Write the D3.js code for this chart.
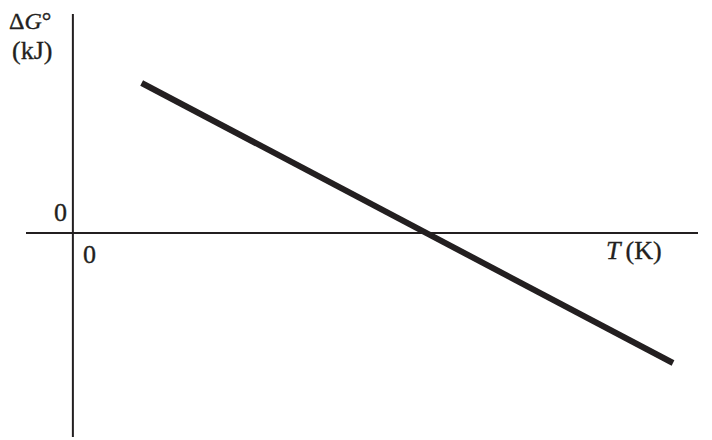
<!DOCTYPE html>
<style>
    body { margin: 0; background: #fff; }
    text { font-family: "Liberation Serif", "DejaVu Serif", serif; fill: #231f20; stroke: #231f20; stroke-width: 0.35px; }
</style>
<body>

<script src="https://d3js.org/d3.v7.min.js"></script>
<script>
    // axis extents (data units)
    var tDomain = [-75, 1000];
    var gDomain = [-204, 219];

    // the straight line: T (K) and ΔG° (kJ) at its two ends
    var lineT = [110, 960];
    var lineG = [150, -130];

    var width = 712,
        height = 440;

    var svg = d3.select("body").append("svg")
        .attr("width", width)
        .attr("height", height);

    var x = d3.scaleLinear().domain(tDomain).range([26, 698]);
    var y = d3.scaleLinear().domain(gDomain).range([437, 14]);

    var ink = "#231f20";

    // horizontal axis (ΔG° = 0)
    svg.append("line")
        .attr("x1", x(tDomain[0])).attr("x2", x(tDomain[1]))
        .attr("y1", y(0)).attr("y2", y(0))
        .attr("stroke", ink).attr("stroke-width", 2);

    // vertical axis (T = 0)
    svg.append("line")
        .attr("x1", x(0)).attr("x2", x(0))
        .attr("y1", y(gDomain[0])).attr("y2", y(gDomain[1]))
        .attr("stroke", ink).attr("stroke-width", 2);

    var pts = lineT.map(function(t, i) { return [t, lineG[i]]; });

    svg.append("path")
        .datum(pts)
        .attr("fill", "none")
        .attr("stroke", ink)
        .attr("stroke-width", 6)
        .attr("d", d3.line()
            .x(function(d) { return x(d[0]); })
            .y(function(d) { return y(d[1]); }));

    // labels
    var fs = 26;

    var yl = svg.append("text")
        .attr("x", 9).attr("y", 29)
        .attr("font-size", 24);
    yl.append("tspan").text("Δ");
    yl.append("tspan").attr("font-style", "italic").text("G");
    yl.append("tspan").text("°");

    svg.append("text")
        .attr("x", 12).attr("y", 59)
        .attr("font-size", fs)
        .text("(kJ)");

    svg.append("text")
        .attr("x", x(0) - 6).attr("y", y(0) - 12)
        .attr("text-anchor", "end")
        .attr("font-size", fs)
        .text("0");

    svg.append("text")
        .attr("x", x(0) + 10).attr("y", y(0) + 30)
        .attr("font-size", fs)
        .text("0");

    var xl = svg.append("text")
        .attr("x", 606).attr("y", 259)
        .attr("font-size", fs);
    xl.append("tspan").attr("font-style", "italic").text("T");
    xl.append("tspan").attr("dx", 5).text("(K)");
</script>
</body>
